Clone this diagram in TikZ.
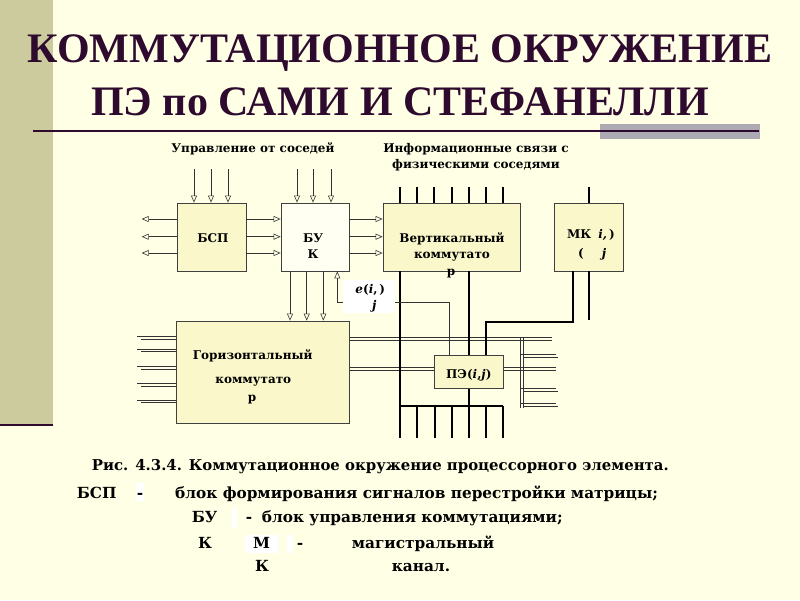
\documentclass[tikz,border=0pt]{standalone}
\usepackage{fontspec}
\setmainfont{DejaVu Serif}
\newfontfamily\titlefont{Liberation Serif}
\usetikzlibrary{arrows.meta}
\definecolor{bgcream}{HTML}{FFFFE6}
\definecolor{stripolive}{HTML}{CBCB9D}
\definecolor{titleplum}{HTML}{2E0B2E}
\definecolor{boxcream}{HTML}{FAF8CA}
\definecolor{bukwhite}{HTML}{FFFFF2}
\definecolor{bargray}{HTML}{ACAAB2}

\begin{document}
\begin{tikzpicture}[x=1pt,y=-1pt,
  box/.style={draw=black!75,line width=.8pt,fill=boxcream,inner sep=0pt},
  lbl/.style={font=\bfseries\fontsize{12}{14}\selectfont,inner sep=0pt,anchor=base},
  captxt/.style={font=\bfseries\fontsize{15.3}{18}\selectfont,inner sep=0pt,anchor=base west},
  arr/.style={draw=black!80,line width=.6pt,-{Triangle[open,length=7pt,width=6pt]}},
  wire/.style={draw=black!80,line width=.7pt},
  bus/.style={draw=black,line width=1.8pt}]
  \useasboundingbox (0,0) rectangle (800,600);
  % background and title
  \fill[bgcream] (0,0) rectangle (800,600);
  \fill[stripolive] (0,0) rectangle (53,425);
  \draw[titleplum,line width=2.5pt] (0,425) -- (53,425);
  \fill[bargray] (600,124) rectangle (760,139);
  \draw[titleplum,line width=1.5pt] (33,131) -- (759,131);
  \node[font=\titlefont\bfseries\fontsize{42}{46}\selectfont,text=titleplum,inner sep=0pt,anchor=base] (title1) at (400,62) {КОММУТАЦИОННОЕ ОКРУЖЕНИЕ};
  \node[font=\titlefont\bfseries\fontsize{42}{46}\selectfont,text=titleplum,inner sep=0pt,anchor=base] (title2) at (400,115) {ПЭ по САМИ И СТЕФАНЕЛЛИ};
  \node[lbl] (ctrl) at (253,152.7) {Управление от соседей};
  \node[lbl] (info1) at (476,152) {Информационные связи с};
  \node[lbl] (info2) at (476,168) {физическими соседями};

  % blocks
  \node[box,minimum width=69pt,minimum height=68pt] (bsp) at (211.5,237) {};
  \node[box,fill=bukwhite,minimum width=68pt,minimum height=68pt] (buk) at (315,237) {};
  \node[box,minimum width=137pt,minimum height=68pt] (vert) at (451.5,237) {};
  \node[box,minimum width=69pt,minimum height=68pt] (mk) at (588.7,237) {};
  \node[box,minimum width=173pt,minimum height=102pt] (hor) at (263,372) {};

  % arrows
  \foreach \x [count=\i] in {194,211,228} {
    \coordinate (bspin\i) at (\x,169);
    \draw[arr] (bspin\i) -- (\x,0 |- bsp.north);
  }
  \foreach \x [count=\i] in {297,313,331} {
    \coordinate (bukin\i) at (\x,169);
    \draw[arr] (bukin\i) -- (\x,0 |- buk.north);
  }
  \foreach \y [count=\i] in {219,236.7,253} {
    \coordinate (bspout\i) at (141.7,\y);
    \draw[arr] (bsp.west |- 0,\y) -- (bspout\i);
    \draw[arr] (bsp.east |- 0,\y) -- (buk.west |- 0,\y);
    \draw[arr] (buk.east |- 0,\y) -- (vert.west |- 0,\y);
  }
  \foreach \x in {290,306.7,323.3}
    \draw[arr] (\x,0 |- buk.south) -- (\x,0 |- hor.north);

  % wires of the horizontal switch
  \foreach \y in {336.7,349,366.7,383.3,400} {
    \draw[wire] (137,\y) -- (hor.west |- 0,\y);
    \draw[wire] (141,\y+2.6) -- (hor.west |- 0,\y+2.6);
  }
  \foreach \y in {337.7,340.3}
    \draw[wire] (hor.east |- 0,\y) -- (552,\y);
  \node[box,minimum width=69pt,minimum height=33pt] (pe) at (468.7,371.7) {};
  \foreach \y in {367.3,370}{
    \draw[wire] (hor.east |- 0,\y) -- (pe.west |- 0,\y);
    \draw[wire] (pe.east |- 0,\y) -- (556,\y);
  }
  \coordinate (tap1) at (520,337.7);
  \coordinate (tap2) at (523.5,337.7);
  \draw[wire] (tap1) -- (520,408);
  \draw[wire] (tap2) -- (523.5,408);
  \foreach \y in {354,388.5,403.5} {
    \draw[wire] (520,\y) -- (556,\y);
    \draw[wire] (523.5,\y+3) -- (558,\y+3);
  }

  % buses
  \foreach \x [count=\i] in {400,417,434,452,469,486,503} {
    \coordinate (vtop\i) at (\x,187);
    \draw[bus] (vtop\i) -- (\x,0 |- vert.north);
  }
  \coordinate (busend) at (400,438);
  \draw[bus] (400,0 |- vert.south) -- (busend);
  \draw[bus] (469,0 |- vert.south) -- (469,0 |- pe.north);
  \coordinate (mkbend1) at (486,321.7);
  \coordinate (mkbend2) at (573,321.7);
  \draw[bus] (486,0 |- pe.north) -- (mkbend1) -- (mkbend2) -- (mkbend2 |- mk.south);
  \coordinate (mktop) at (589,187);
  \coordinate (mkbot) at (589,320);
  \draw[bus] (mktop) -- (mktop |- mk.north);
  \draw[bus] (mkbot) -- (mkbot |- mk.south);
  \coordinate (comb) at (400,405.7);
  \draw[bus] (469,0 |- pe.south) -- (469,438);
  \draw[bus] (comb) -- (503,405.7);
  \foreach \x in {417,435,452,486,503}
    \draw[bus] (\x,405.7) -- (\x,438);

  % e(i,j) feedback
  \coordinate (ebend1) at (337.3,302);
  \coordinate (ebend2) at (449,302);
  \draw[arr] (pe.north -| ebend2) -- (ebend2) -- (ebend1) -- (ebend1 |- buk.south);
  \fill[white] (343,280) rectangle (395,312.7);
  \node[lbl] (elbl1) at (370.3,293) {\textit{e}(\textit{i},\,)};
  \node[lbl] (elbl2) at (374.3,309) {\textit{j}};

  % block labels
  \node[lbl] (bsplbl) at (213,242.7) {БСП};
  \node[lbl] (buklbl1) at (313,242.7) {БУ};
  \node[lbl] (buklbl2) at (313,258) {К};
  \node[lbl] (vertlbl1) at (452,242.7) {Вертикальный};
  \node[lbl] (vertlbl2) at (452,258.3) {коммутато};
  \node[lbl] (vertlbl3) at (451,275) {р};
  \node[lbl] (horlbl1) at (252.7,359.3) {Горизонтальный};
  \node[lbl] (horlbl2) at (253.3,383.3) {коммутато};
  \node[lbl] (horlbl3) at (252,401) {р};
  \node[lbl] (pelbl) at (468.8,378.3) {ПЭ(\textit{i},\textit{j})};
  \node[lbl,anchor=base west] (mklbl1) at (567,238.3) {МК\hspace{7pt}\textit{i,}\hspace{2pt})};
  \node[lbl,anchor=base west] (mklbl2) at (578,257) {(\hspace{18pt}\textit{j}};

  % caption
  \fill[white] (136,483) rectangle (144,501);
  \fill[white] (232,507) rectangle (237,528);
  \fill[white] (245,535) rectangle (278,553);
  \fill[white] (287,535) rectangle (293,553);
  \node[captxt,font=\bfseries\fontsize{14.9}{18}\selectfont] (cap1) at (91.7,470.7) {Рис. 4.3.4. Коммутационное окружение процессорного элемента.};
  \node[captxt] (cap2a) at (76.7,498.3) {БСП};
  \node[captxt,anchor=base] (cap2b) at (140,498.3) {-};
  \node[captxt] (cap2c) at (175,498.3) {блок формирования сигналов перестройки матрицы;};
  \node[captxt] (cap3a) at (191.7,522.7) {БУ};
  \node[captxt,anchor=base] (cap3b) at (249,522.7) {-};
  \node[captxt] (cap3c) at (261.7,522.7) {блок управления коммутациями;};
  \node[captxt] (cap4a) at (198,548.3) {К};
  \node[captxt,anchor=base] (cap4b) at (261.5,548.3) {М};
  \node[captxt,anchor=base] (cap4c) at (300,548.3) {-};
  \node[captxt] (cap4d) at (351.7,548.3) {магистральный};
  \node[captxt] (cap5a) at (255,571.7) {К};
  \node[captxt] (cap5b) at (391.7,571.7) {канал.};
\end{tikzpicture}
\end{document}
